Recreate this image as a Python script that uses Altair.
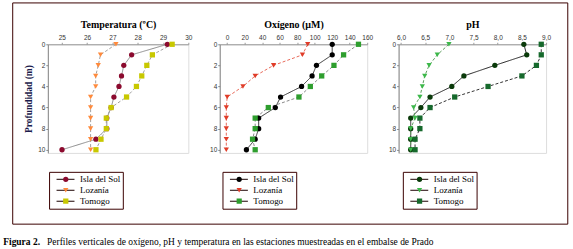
import altair as alt
import pandas as pd

depths = [0, 1, 2, 3, 4, 5, 6, 7, 8, 9, 10]
stations = ["Isla del Sol", "Lozanía", "Tomogo"]

temp_isla = [29.17, 27.76, 27.45, 27.36, 27.26, 27.06, 26.95, 26.78, 26.78, 26.35, 25.01]
temp_lozania = [27.14, 26.53, 26.44, 26.34, 26.34, 26.14, 26.14, 26.14, 26.14, 26.14, 26.14]
temp_tomogo = [29.36, 28.58, 28.36, 28.16, 27.95, 27.56, 26.95, 26.76, 26.76, 26.55, 26.35]

oxy_isla = [120, 120, 102, 97, 85, 61, 55, 36, 36, 32, 22]
oxy_lozania = [92, 86, 53, 32, 18, 0, -1, -1, -1, -1, -1]
oxy_tomogo = [150, 133, 122, 108, 95, 82, 47, 32, 32, 29, 32]

ph_isla = [8.54, 8.60, 7.94, 7.30, 7.05, 6.60, 6.41, 6.20, 6.20, 6.20, 6.20]
ph_lozania = [6.99, 6.75, 6.58, 6.49, 6.44, 6.39, 6.26, 6.29, 6.20, 6.20, 6.20]
ph_tomogo = [8.90, 8.90, 8.80, 8.50, 7.80, 7.11, 6.60, 6.39, 6.39, 6.29, 6.29]

temp_ticks = [25, 26, 27, 28, 29, 30]
oxy_ticks = [0, 20, 40, 60, 80, 100, 120, 140, 160]
ph_ticks = [6.0, 6.5, 7.0, 7.5, 8.0, 8.5, 9.0]
depth_ticks = [0, 2, 4, 6, 8, 10]

caption_bold = "Figura 2."
caption_rest = "Perfiles verticales de oxígeno, pH y temperatura en las estaciones muestreadas en el embalse de Prado"

SERIF = "Liberation Serif"
SANS = "Liberation Sans"
FRAME = "#3a0000"
PLOT_H = 109
OX = 46.75  # x of the first plot area in the page
OY = 43
LEG_Y = 128


def long_df(series):
    rows = []
    for st, vals in zip(stations, series):
        for d, v in zip(depths, vals):
            rows.append({"depth": d, "value": v, "est": st, "est_l": st, "est_s": st})
    return pd.DataFrame(rows)


def make_panel(series, title, xdom, xticks, label_expr, width, fills, line_colors,
               legend_x, ytitle=None, extra=None):
    df = long_df(series)
    base = alt.Chart(df)
    xaxis = alt.Axis(orient="top", values=xticks, labelExpr=label_expr, title=title,
                     titleFont=SERIF, titleFontSize=10, titleFontWeight="bold",
                     titleColor="black", titlePadding=5, labelFont=SANS,
                     labelFontSize=6.5, labelColor="#333", tickSize=2, labelPadding=2,
                     domainColor="#999", tickColor="#999", grid=False,
                     labelOverlap=False, labelFlush=False)
    x = alt.X("value:Q", scale=alt.Scale(domain=xdom, nice=False, zero=False), axis=xaxis)
    ykw = dict(values=depth_ticks, labelFont=SANS, labelFontSize=6.5, labelColor="#333",
               tickSize=2, labelPadding=1, domainColor="#888", tickColor="#888",
               grid=False, labelOverlap=False)
    if ytitle:
        ykw.update(title=ytitle, titleFont=SERIF, titleFontSize=9.5,
                   titleFontWeight="bold", titleColor="#1c1c4c", titlePadding=4)
    else:
        ykw.update(title=None)
    y = alt.Y("depth:Q", scale=alt.Scale(domain=[0, 10.3], reverse=True, nice=False,
                                         zero=False), axis=alt.Axis(**ykw))

    line_leg = alt.Legend(orient="none", legendX=legend_x, legendY=LEG_Y, title=None,
                          symbolType="stroke", symbolSize=324, symbolStrokeWidth=1,
                          symbolStrokeColor="#1a0000", symbolOpacity=1, symbolOffset=5,
                          padding=2, clipHeight=11, rowPadding=0, labelFont=SERIF,
                          labelFontSize=9, labelColor="black", labelOffset=5,
                          labelExpr="datum.label + '\u00a0'",
                          strokeColor=FRAME, fillColor="white", cornerRadius=0, zindex=1)
    mk_leg = alt.Legend(orient="none", legendX=legend_x + 11.75, legendY=LEG_Y, title=None,
                        symbolSize=28, symbolStrokeWidth=0, symbolOpacity=1,
                        padding=2, clipHeight=11, rowPadding=0, labelExpr="''",
                        labelFontSize=1, zindex=2)

    lines = base.mark_line(strokeWidth=1).encode(
        x=x, y=y, order="depth:Q",
        stroke=alt.Stroke("est_s:N", scale=alt.Scale(range=line_colors), legend=None),
        strokeDash=alt.StrokeDash("est_s:N", scale=alt.Scale(range=[[1, 0], [3, 2], [3, 2]]),
                                  legend=None),
        opacity=alt.Opacity("est_l:N", scale=alt.Scale(type="ordinal", range=[1, 1, 1]),
                            legend=line_leg),
    )
    pts = base.mark_point(filled=True, size=28, opacity=1, strokeWidth=0).encode(
        x=x, y=y,
        fill=alt.Fill("est:N", scale=alt.Scale(range=fills), legend=mk_leg),
        shape=alt.Shape("est:N", scale=alt.Scale(range=["circle", "triangle-down", "square"]),
                        legend=mk_leg),
    )
    layers = (extra or []) + [lines, pts]
    return alt.layer(*layers).properties(width=width, height=PLOT_H)


one = alt.Data(values=[{"a": 1}])
bg = alt.Chart(one).mark_rect(fill="white", opacity=0).encode(
    x=alt.value(-OX), x2=alt.value(573 - OX), y=alt.value(-OY), y2=alt.value(249 - OY))
frame = alt.Chart(one).mark_rect(fill="white", fillOpacity=0, stroke=FRAME, strokeWidth=1).encode(
    x=alt.value(11.5 - OX), x2=alt.value(568.5 - OX), y=alt.value(1.5 - OY),
    y2=alt.value(223.5 - OY))
cap1 = alt.Chart(one).mark_text(align="left", baseline="alphabetic", font=SERIF, fontSize=9.5,
                                fontWeight="bold", color="black").encode(
    x=alt.value(2 - OX), y=alt.value(244 - OY), text=alt.value(caption_bold))
cap2 = alt.Chart(one).mark_text(align="left", baseline="alphabetic", font=SERIF, fontSize=9.5,
                                color="black").encode(
    x=alt.value(46 - OX), y=alt.value(244 - OY), text=alt.value(caption_rest))

p_temp = make_panel([temp_isla, temp_lozania, temp_tomogo], "Temperatura (ºC)",
                    [24.45, 30], temp_ticks, "format(datum.value, 'd')", 141,
                    ["#8b0a2e", "#ff8a3c", "#c8c800"], ["#8a8a8a", "#a0a0a0", "#a0a0a0"],
                    48 - OX, ytitle="Profundidad (m)", extra=[bg, frame, cap1, cap2])
p_oxy = make_panel([oxy_isla, oxy_lozania, oxy_tomogo], "Oxígeno (µM)",
                   [-8.5, 160], oxy_ticks, "format(datum.value, 'd')", 148,
                   ["#000000", "#e03c28", "#2e9e2e"], ["#333333", "#e86a5a", "#8a8a8a"],
                   222 - (OX + 141 + 31.5))
p_ph = make_panel([ph_isla, ph_lozania, ph_tomogo], "pH",
                  [5.95, 9.0], ph_ticks, "replace(format(datum.value, '.1f'), '.', ',')", 148,
                  ["#0a3a0a", "#3cb84a", "#16692c"], ["#222222", "#5e9e5e", "#333333"],
                  403 - (OX + 141 + 31.5 + 148 + 31.5))

res = dict(x="independent", y="independent", fill="independent", shape="independent",
           stroke="independent", strokeDash="independent", opacity="independent")
leg = dict(fill="independent", shape="independent", opacity="independent")

chart = alt.hconcat(p_temp, p_oxy, p_ph, spacing=31.5, bounds="flush").resolve_scale(
    **res).resolve_legend(**leg)
chart = chart.properties(padding=0, autosize=alt.AutoSizeParams(type="pad")).configure_view(
    strokeWidth=0).configure(background="white")

chart.save("out.html", embed_options={"renderer": "svg", "actions": False})
